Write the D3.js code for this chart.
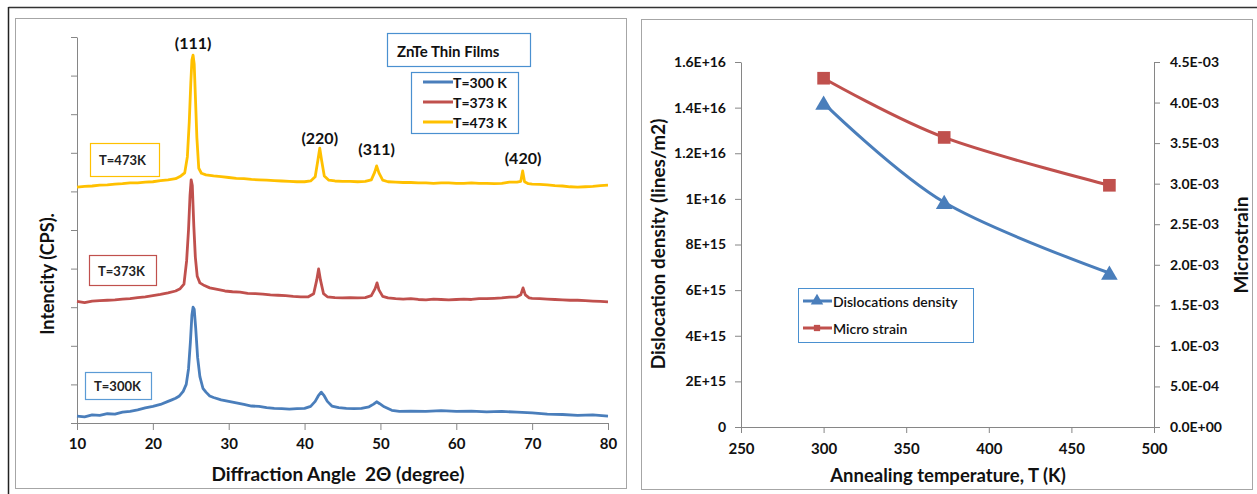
<!DOCTYPE html>
<html>
<head>
<meta charset="utf-8">
<script src="https://cdn.jsdelivr.net/npm/d3@7"></script>
<style>
  body { margin: 0; background: #fff; }
  text { font-family: Lato, "Open Sans", sans-serif; fill: #111; }
  .axis path, .axis line { stroke: #868686; }
  .axis text { font-size: 14px; font-weight: 700; fill: #111; }
</style>
</head>
<body>
<div id="chart"></div>
<script>
// XRD patterns: [2theta (deg), intensity (counts, offset stacked)]
var xrd300 = [[10,180],[11,160],[12,210],[13,200],[14,240],[15,230],[16,280],[17,300],[18,340],[19,390],[20,430],[21,480],[22,560],[22.5,600],[23,640],[23.5,700],[24,820],[24.4,1000],[24.7,1400],[24.95,2100],[25.15,2800],[25.3,3000],[25.45,2950],[25.65,2450],[25.9,1700],[26.2,1200],[26.6,900],[27,800],[27.5,700],[28,660],[29,600],[30,560],[31,520],[32,480],[33,440],[34,430],[35,400],[36,380],[37,370],[38,360],[39,370],[40,380],[40.8,430],[41.4,560],[41.8,700],[42.2,800],[42.6,700],[43,560],[43.6,440],[44.5,400],[45.5,380],[46.5,370],[47.5,380],[48.5,420],[49.1,490],[49.5,550],[49.9,500],[50.5,420],[51.5,330],[52.5,300],[54,310],[56,300],[58,320],[60,300],[62,310],[64,290],[66,300],[68,280],[70,260],[72,230],[74,220],[76,200],[78,210],[80,180]];
var xrd373 = [[10,3150],[11,3120],[12,3160],[13,3170],[14,3180],[15,3190],[16,3210],[17,3220],[18,3250],[19,3270],[20,3300],[21,3330],[22,3370],[23,3420],[23.6,3480],[24.1,3600],[24.45,4200],[24.7,5000],[24.9,5900],[25.05,6300],[25.2,6150],[25.4,5100],[25.6,4300],[25.85,3800],[26.2,3630],[26.8,3560],[27.5,3500],[28.5,3460],[29.5,3420],[30.5,3400],[31.5,3390],[32.5,3360],[33.5,3350],[34.5,3340],[35.5,3320],[36.5,3310],[37.5,3300],[38.5,3280],[39.5,3270],[40.5,3270],[41.2,3350],[41.6,3700],[41.85,3990],[42.1,3700],[42.5,3350],[43,3270],[44,3250],[45,3240],[46,3250],[47,3240],[48,3250],[48.8,3300],[49.3,3480],[49.55,3630],[49.8,3450],[50.3,3280],[51,3240],[52,3220],[53,3210],[54,3220],[55,3200],[56,3190],[57,3210],[58,3200],[59,3190],[60,3200],[61,3210],[62,3200],[63,3220],[64,3220],[65,3230],[66,3240],[67,3260],[68,3270],[68.5,3320],[68.8,3500],[69.1,3320],[69.6,3240],[70,3230],[71,3220],[72,3210],[73,3200],[74,3190],[75,3180],[76,3180],[77,3170],[78,3160],[79,3150],[80,3140]];
var xrd473 = [[10,6110],[11,6130],[12,6140],[13,6160],[14,6170],[15,6190],[16,6200],[17,6220],[18,6220],[19,6240],[20,6250],[21,6280],[22,6300],[23,6330],[23.7,6400],[24.2,6480],[24.55,6900],[24.8,7800],[25.0,8800],[25.15,9400],[25.3,9530],[25.45,9300],[25.6,8500],[25.8,7400],[26.05,6600],[26.4,6470],[27,6430],[28,6400],[29,6380],[30,6360],[31,6340],[32,6330],[33,6310],[34,6300],[35,6290],[36,6280],[37,6270],[38,6260],[39,6250],[40,6250],[40.8,6270],[41.4,6380],[41.75,6800],[42.0,7120],[42.25,6800],[42.6,6400],[43.2,6290],[44,6270],[45,6260],[46,6260],[47,6250],[48,6260],[48.8,6300],[49.25,6500],[49.5,6660],[49.8,6480],[50.3,6290],[51,6250],[52,6240],[53,6230],[54,6230],[55,6220],[56,6220],[57,6210],[58,6220],[59,6220],[60,6210],[61,6210],[62,6220],[63,6210],[64,6210],[65,6200],[66,6210],[67,6240],[68,6240],[68.5,6260],[68.75,6530],[69.0,6250],[69.5,6200],[70,6190],[71,6180],[72,6170],[73,6150],[74,6140],[75,6120],[76,6110],[77,6120],[78,6130],[79,6150],[80,6160]];

var xrdSeries = ["T=300 K", "T=373 K", "T=473 K"];
var curveLabels = ["T=300K", "T=373K", "T=473K"];
var peakLabels = ["(111)", "(220)", "(311)", "(420)"];
var peakAngles = [25.3, 42.0, 49.5, 68.8];

// annealing data
var temps = [300, 373, 473];
var dislocation = [1.42e16, 9.85e15, 6.75e15];
var microstrain = [4.30e-3, 3.57e-3, 2.98e-3];
var leftTickLabels = ["0", "2E+15", "4E+15", "6E+15", "8E+15", "1E+16", "1.2E+16", "1.4E+16", "1.6E+16"];
var rightTickLabels = ["0.0E+00", "5.0E-04", "1.0E-03", "1.5E-03", "2.0E-03", "2.5E-03", "3.0E-03", "3.5E-03", "4.0E-03", "4.5E-03"];

var blue = "#4a7ebb", red = "#c0504d", gold = "#ffc000";

var svg = d3.select("#chart").append("svg")
  .attr("width", 1257)
  .attr("height", 494);

// outer frame lines
svg.append("line").attr("x1", 8.5).attr("x2", 1257).attr("y1", 7.5).attr("y2", 7.5)
  .attr("stroke", "#333").attr("stroke-width", 1.5);
svg.append("line").attr("x1", 8.5).attr("x2", 8.5).attr("y1", 7).attr("y2", 494)
  .attr("stroke", "#222").attr("stroke-width", 1.5);
svg.append("rect").attr("x", 15.5).attr("y", 18.5).attr("width", 611).attr("height", 470)
  .attr("fill", "none").attr("stroke", "#a6a6a6").attr("stroke-width", 1);
svg.append("rect").attr("x", 641.5).attr("y", 19.5).attr("width", 611).attr("height", 470)
  .attr("fill", "none").attr("stroke", "#a6a6a6").attr("stroke-width", 1);

// ---------- left chart: XRD ----------
var x1 = d3.scaleLinear().domain([10, 80]).range([77, 608]);
var y1 = d3.scaleLinear().domain([0, 10000]).range([423, 37]);

svg.append("g").attr("class", "axis")
  .attr("transform", "translate(0,423)")
  .call(d3.axisBottom(x1).tickValues(d3.range(10, 81, 10)).tickSize(7).tickSizeOuter(0).tickPadding(8))
  .call(g => g.selectAll("text").style("font-size", "15px"));

svg.append("g").attr("class", "axis")
  .attr("transform", "translate(77,0)")
  .call(d3.axisLeft(y1).tickValues(d3.range(0, 10001, 1000)).tickSize(6).tickSizeOuter(0).tickFormat(""));

var line1 = d3.line().x(d => x1(d[0])).y(d => y1(d[1]));
[[xrd300, blue], [xrd373, red], [xrd473, gold]].forEach(function(s) {
  svg.append("path").datum(s[0])
    .attr("fill", "none")
    .attr("stroke", s[1])
    .attr("stroke-width", 2.8)
    .attr("stroke-linejoin", "round")
    .attr("d", line1);
});

// peak labels
var peakY = [9850, 7390, 7110, 6890];
peakLabels.forEach(function(p, i) {
  svg.append("text")
    .attr("x", x1(peakAngles[i]))
    .attr("y", y1(peakY[i]))
    .attr("text-anchor", "middle")
    .attr("dominant-baseline", "central")
    .style("font-size", "16px").style("font-weight", 700)
    .text(p);
});

// curve tag boxes
var tagBoxes = [
  {x: 85, y: 372, w: 66, h: 27, c: "#5b9bd5", ty: 386},
  {x: 89, y: 255, w: 67, h: 30, c: red, ty: 271},
  {x: 90, y: 143, w: 69, h: 33, c: gold, ty: 160}
];
tagBoxes.forEach(function(b, i) {
  svg.append("rect").attr("x", b.x + 0.5).attr("y", b.y + 0.5).attr("width", b.w).attr("height", b.h)
    .attr("fill", "#fff").attr("stroke", b.c).attr("stroke-width", 1.2);
  svg.append("text").attr("x", b.x + 9).attr("y", b.ty)
    .attr("dominant-baseline", "central")
    .style("font-size", "13px").style("font-weight", 700).style("fill", "#222")
    .text(curveLabels[i]);
});

// title box + legend
svg.append("rect").attr("x", 387.5).attr("y", 33.5).attr("width", 143).attr("height", 33)
  .attr("fill", "#fff").attr("stroke", "#4a90d0").attr("stroke-width", 1.2);
svg.append("text").attr("x", 397).attr("y", 51).attr("dominant-baseline", "central")
  .style("font-size", "15px").style("font-weight", 700).text("ZnTe Thin Films");

svg.append("rect").attr("x", 411.5).attr("y", 72.5).attr("width", 107).attr("height", 61)
  .attr("fill", "#fff").attr("stroke", "#4a90d0").attr("stroke-width", 1.2);
[blue, red, gold].forEach(function(c, i) {
  var yy = 82 + i * 20;
  svg.append("line").attr("x1", 423).attr("x2", 453).attr("y1", yy).attr("y2", yy)
    .attr("stroke", c).attr("stroke-width", 3);
  svg.append("text").attr("x", 453).attr("y", yy).attr("dominant-baseline", "central")
    .style("font-size", "14px").style("font-weight", 700).text(xrdSeries[i]);
});

// axis titles
svg.append("text").attr("x", 338).attr("y", 473).attr("text-anchor", "middle")
  .attr("dominant-baseline", "central")
  .style("font-size", "19px").style("font-weight", 700)
  .text("Diffraction Angle \u00a02\u0398 (degree)");
svg.append("text").attr("transform", "translate(47,274) rotate(-90)")
  .attr("text-anchor", "middle").attr("dominant-baseline", "central")
  .style("font-size", "18px").style("font-weight", 700)
  .text("Intencity (CPS).");

// ---------- right chart: dislocation density / microstrain ----------
var x2 = d3.scaleLinear().domain([250, 500]).range([741, 1154]);
var yL = d3.scaleLinear().domain([0, 1.6e16]).range([427, 62]);
var yR = d3.scaleLinear().domain([0, 4.5e-3]).range([427, 62]);

svg.append("g").attr("class", "axis")
  .attr("transform", "translate(0,427)")
  .call(d3.axisBottom(x2).tickValues(d3.range(250, 501, 50)).tickSize(6).tickSizeOuter(0).tickPadding(10))
  .call(g => g.selectAll("text").style("font-size", "15px"));

svg.append("g").attr("class", "axis")
  .attr("transform", "translate(741,0)")
  .call(d3.axisLeft(yL).tickValues(d3.range(0, 9).map(i => i * 2e15)).tickSize(6).tickSizeOuter(0)
    .tickPadding(9).tickFormat((d, i) => leftTickLabels[i]));

svg.append("g").attr("class", "axis")
  .attr("transform", "translate(1154,0)")
  .call(d3.axisRight(yR).tickValues(d3.range(0, 10).map(i => i * 5e-4)).tickSize(6).tickSizeOuter(0)
    .tickPadding(10).tickFormat((d, i) => rightTickLabels[i]));

var dislPts = temps.map((t, i) => [x2(t), yL(dislocation[i])]);
var strainPts = temps.map((t, i) => [x2(t), yR(microstrain[i])]);

svg.append("path").datum(strainPts)
  .attr("fill", "none").attr("stroke", red).attr("stroke-width", 3)
  .attr("d", d3.line().curve(d3.curveCatmullRom.alpha(0)));
svg.append("path").datum(dislPts)
  .attr("fill", "none").attr("stroke", blue).attr("stroke-width", 3)
  .attr("d", d3.line().curve(d3.curveCatmullRom.alpha(0)));

var tri = d3.symbol().type(d3.symbolTriangle).size(120);
var sq = d3.symbol().type(d3.symbolSquare).size(160);
svg.selectAll(".tri").data(dislPts).enter().append("path")
  .attr("transform", d => "translate(" + d[0] + "," + (d[1] + 2) + ")")
  .attr("d", tri).attr("fill", blue);
svg.selectAll(".sq").data(strainPts).enter().append("path")
  .attr("transform", d => "translate(" + d[0] + "," + d[1] + ")")
  .attr("d", sq).attr("fill", red);

// legend
svg.append("rect").attr("x", 798.5).attr("y", 288.5).attr("width", 175).attr("height", 54)
  .attr("fill", "#fff").attr("stroke", "#4a90d0").attr("stroke-width", 1);
var legItems = [["Dislocations density", blue, tri, 301], ["Micro strain", red, d3.symbol().type(d3.symbolSquare).size(70), 328]];
legItems.forEach(function(l) {
  svg.append("line").attr("x1", 803).attr("x2", 832).attr("y1", l[3]).attr("y2", l[3])
    .attr("stroke", l[1]).attr("stroke-width", 3);
  svg.append("path").attr("transform", "translate(817," + l[3] + ") scale(0.75)")
    .attr("d", l[2]).attr("fill", l[1]);
  svg.append("text").attr("x", 833).attr("y", l[3]).attr("dominant-baseline", "central")
    .style("font-size", "14px").style("font-weight", 600).text(l[0]);
});

svg.append("text").attr("x", 948).attr("y", 475).attr("text-anchor", "middle")
  .attr("dominant-baseline", "central")
  .style("font-size", "18.5px").style("font-weight", 700)
  .text("Annealing temperature, T (K)");
svg.append("text").attr("transform", "translate(657,244) rotate(-90)")
  .attr("text-anchor", "middle").attr("dominant-baseline", "central")
  .style("font-size", "19px").style("font-weight", 700)
  .text("Dislocation density (lines/m2)");
svg.append("text").attr("transform", "translate(1240,245) rotate(-90)")
  .attr("text-anchor", "middle").attr("dominant-baseline", "central")
  .style("font-size", "19px").style("font-weight", 700)
  .text("Microstrain");
</script>
</body>
</html>
